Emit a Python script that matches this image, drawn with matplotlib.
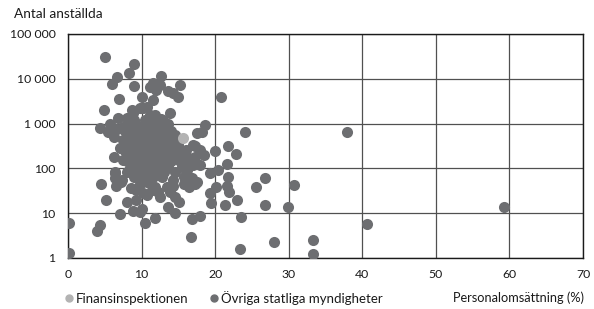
import numpy as np
import matplotlib
matplotlib.use('Agg')
from matplotlib import pyplot as plt
from matplotlib.lines import Line2D

plt.rcParams['font.family'] = ['Lato', 'DejaVu Sans']

# Finansinspektionen
fi_x = [15.6]
fi_y = [480]

# Övriga statliga myndigheter (personalomsättning %, antal anställda)
# outliers and edge points
edge_x = [0.1, 0.1, 4.0, 4.3, 4.5, 5.1, 4.9, 4.3, 5.07, 9.0, 8.3, 6.7, 6.0, 9.0,
          12.6, 11.5, 12.5, 12.0, 11.2, 15.2, 13.6, 14.3, 15.0, 10.1, 11.6, 6.9,
          20.8, 6.8, 8.7, 9.8, 13.9, 18.6, 18.2, 24.1, 37.9,
          17.3, 17.9, 20.0, 21.8, 22.8, 21.6, 20.4, 19.3, 21.7, 20.1, 21.6, 21.9,
          23.0, 19.3, 19.5, 21.4, 26.8, 25.6, 30.7, 26.8, 29.9, 23.5, 18.0, 16.9,
          16.7, 23.4, 28.0, 33.3, 33.3, 40.7, 59.2]
edge_y = [6, 1.3, 4.1, 5.4, 44, 20, 2000, 780, 31000, 21400, 13700, 10800, 7700, 6900,
          11500, 8000, 7300, 5600, 6500, 7300, 5400, 4900, 4000, 4000, 3400, 3500,
          4000, 1300, 2000, 2200, 1700, 940, 660, 640, 650,
          316, 260, 245, 316, 215, 123, 92, 78, 63, 39, 40, 30,
          20, 28, 17, 15, 60, 38, 43, 15, 13.5, 8.4, 8.7, 7.3,
          3.0, 1.56, 2.3, 2.5, 1.23, 5.7, 13.5]

# lower left of the cluster
low_x = [7.1, 8.0, 8.8, 9.8, 10.4, 11.8, 13.6, 14.5, 15.1, 6.5, 7.2, 6.4, 9.3, 9.2,
         10.1, 10.8, 11.4, 12.3, 9.8, 13.9, 14.3, 6.4, 7.3, 7.5, 6.4, 8.5, 10.2,
         10.7, 11.8, 12.5, 13.4, 14.5, 14.3, 15.7, 17.3, 7.1, 6.2, 8.4]
low_y = [9.6, 17.5, 11.4, 10.8, 6, 7.9, 13.5, 10, 18, 40, 50, 79, 33, 20,
         12.4, 25, 33, 30, 46, 30, 40, 60, 55, 154, 84, 36, 28,
         50, 39, 23, 39, 23, 55, 65, 46, 280, 183, 100]

# upper left of the cluster
up_x = [10.2, 8.9, 8.0, 11.8, 12.7, 13.6, 5.7, 5.5, 6.6, 6.2, 7.5, 17.5, 15.0, 17.0,
        8.4, 10.7, 11.1, 12.9]
up_y = [2200, 1700, 1300, 1570, 1250, 1000, 1000, 660, 750, 510, 860, 610, 330, 330,
        1430, 2400, 1570, 1200]

# right flank of the cluster
right_x = [16.0, 16.5, 17.0, 16.2, 15.5, 16.8, 15.8, 16.5, 17.5, 15.2, 17.2, 18.5, 18.0, 16.0]
right_y = [200, 150, 120, 90, 110, 60, 45, 38, 50, 150, 180, 200, 120, 260]

# dense core
core_x = [9.0, 10.5, 11.5,
          8.2, 9.5, 10.8, 12.0, 13.0,
          7.8, 9.0, 10.2, 11.3, 12.4, 14.0,
          8.5, 9.7, 10.8, 12.0, 13.2, 14.5,
          7.5, 8.8, 10.0, 11.2, 12.5, 13.8, 15.0,
          8.2, 9.5, 10.6, 11.8, 13.0, 14.2,
          7.8, 9.0, 10.2, 11.4, 12.6, 13.8, 15.2,
          8.4, 9.6, 10.8, 12.0, 13.2, 14.4,
          8.0, 9.2, 10.4, 11.6, 12.8, 14.0, 15.4,
          8.8, 10.0, 11.2, 12.4, 13.6,
          8.0, 9.4, 10.6, 11.8, 13.0, 14.6,
          9.0, 10.2, 11.5, 12.8]
core_y = [1200, 1200, 1200,
          900, 900, 900, 900, 900,
          700, 700, 700, 700, 700, 700,
          550, 550, 550, 550, 550, 550,
          420, 420, 420, 420, 420, 420, 420,
          320, 320, 320, 320, 320, 320,
          250, 250, 250, 250, 250, 250, 250,
          190, 190, 190, 190, 190, 190,
          145, 145, 145, 145, 145, 145, 145,
          110, 110, 110, 110, 110,
          85, 85, 85, 85, 85, 85,
          65, 65, 65, 65]

other_x = edge_x + low_x + up_x + right_x + core_x
other_y = edge_y + low_y + up_y + right_y + core_y

dark = '#6d6e71'
light = '#b3b3b3'
txt = '#1a1a1a'

fig = plt.figure(figsize=(5.94, 3.09), dpi=100)
ax = fig.add_axes([68 / 594, 1 - 258 / 309, 515 / 594, 224 / 309])

ax.scatter(other_x, other_y, s=64, color=dark, linewidths=0, zorder=3)
ax.scatter(fi_x, fi_y, s=64, color=light, linewidths=0, zorder=4)

ax.set_yscale('log')
ax.set_ylim(1, 100000)
ax.set_xlim(0, 70)
ax.set_xticks(range(0, 71, 10))
ax.set_yticks([1, 10, 100, 1000, 10000, 100000])
ax.set_yticklabels(['1', '10', '100', '1 000', '10 000', '100 000'])
ax.minorticks_off()
ax.grid(True, color='#505050', linewidth=0.9, zorder=0)
ax.set_axisbelow(True)
for sp in ax.spines.values():
    sp.set_color(txt)
    sp.set_linewidth(1.0)
ax.tick_params(length=0, labelsize=8.8, colors=txt)
ax.tick_params(axis='x', pad=8)
ax.tick_params(axis='y', pad=9)

fig.text(14 / 594, 1 - 14 / 309, 'Antal anställda', fontsize=9.8, va='center', ha='left', color=txt)
fig.text(584 / 594, 1 - 298 / 309, 'Personalomsättning (%)', fontsize=9.2, va='center', ha='right', color=txt)

handles = [Line2D([], [], marker='o', linestyle='none', markersize=5, color=light),
           Line2D([], [], marker='o', linestyle='none', markersize=5, color=dark)]
fig.legend(handles, ['Finansinspektionen', 'Övriga statliga myndigheter'], ncol=2,
           loc='center left', bbox_to_anchor=(62 / 594, 1 - 298 / 309), frameon=False,
           fontsize=9.5, handletextpad=0.05, columnspacing=1.4, handlelength=1.0,
           labelcolor=txt, borderaxespad=0, borderpad=0)

fig.savefig('out.png', dpi=100)
